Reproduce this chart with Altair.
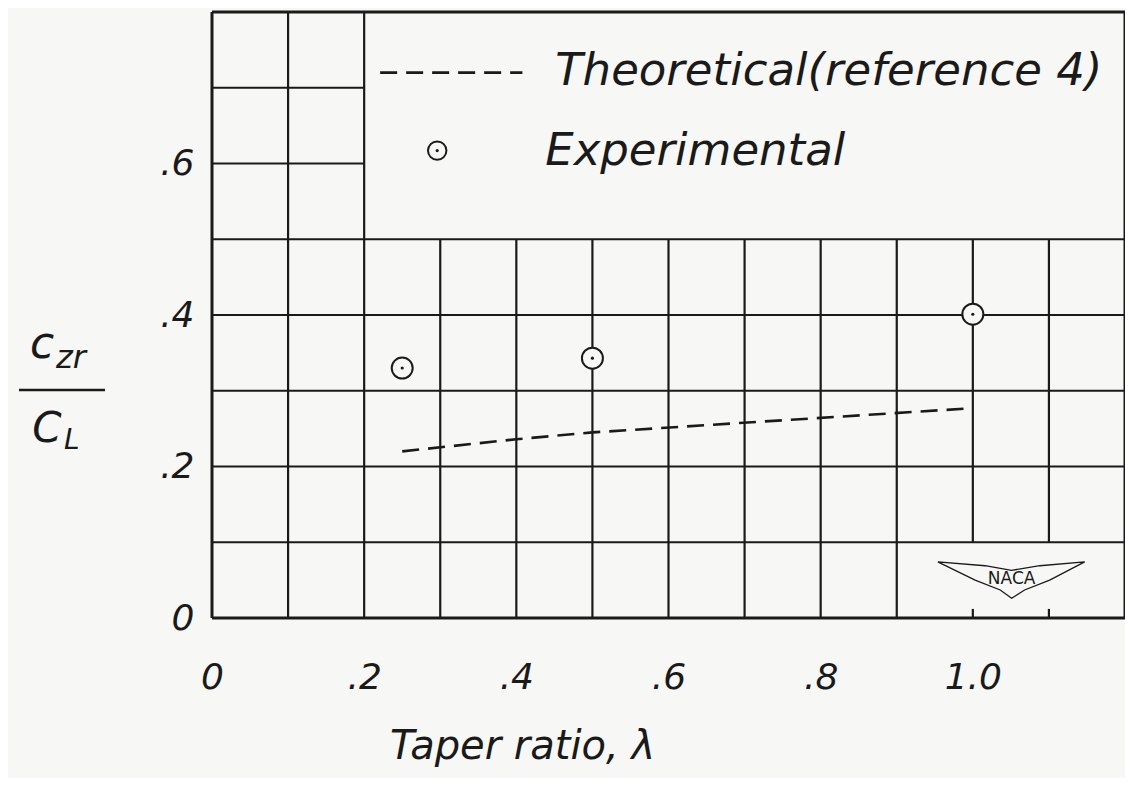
import altair as alt
import pandas as pd

# ---- data ----
exp_taper = [0.25, 0.5, 1.0]
exp_ratio = [0.330, 0.343, 0.401]

theo_taper = [0.25, 0.4, 0.5, 1.0]
theo_ratio = [0.220, 0.236, 0.245, 0.277]

x_tick_values = [0, 0.2, 0.4, 0.6, 0.8, 1.0]
y_tick_values = [0, 0.2, 0.4, 0.6]

legend_labels = ["Theoretical(reference 4)", "Experimental"]

FONT = "DejaVu Sans"
INK = "#1a1a1a"
BG = "#f7f7f5"

X_DOM = [0, 1.2]
Y_DOM = [0, 0.8]

xs = alt.Scale(domain=X_DOM, nice=False, zero=False)
ys = alt.Scale(domain=Y_DOM, nice=False, zero=False)

# ---- grid segments (hand-drawn grid layout of the reference) ----
grid_rows = []
for i in range(1, 12):
    x = i / 10
    if i <= 2:
        grid_rows.append(dict(x=x, x2=x, y=0.0, y2=0.8))
    elif i <= 9:
        grid_rows.append(dict(x=x, x2=x, y=0.0, y2=0.5))
    else:
        grid_rows.append(dict(x=x, x2=x, y=0.1, y2=0.5))
        grid_rows.append(dict(x=x, x2=x, y=0.0, y2=0.012))
for j in range(1, 8):
    y = j / 10
    if j <= 5:
        grid_rows.append(dict(x=0.0, x2=1.2, y=y, y2=y))
    else:
        grid_rows.append(dict(x=0.0, x2=0.2, y=y, y2=y))
grid_df = pd.DataFrame(grid_rows)

border_df = pd.DataFrame([
    dict(x=0.0, x2=0.0, y=0.0, y2=0.8),
    dict(x=1.2, x2=1.2, y=0.0, y2=0.8),
    dict(x=0.0, x2=1.2, y=0.0, y2=0.0),
    dict(x=0.0, x2=1.2, y=0.8, y2=0.8),
])

exp_df = pd.DataFrame({"taper": exp_taper, "ratio": exp_ratio})
theo_df = pd.DataFrame({"taper": theo_taper, "ratio": theo_ratio})

grid = alt.Chart(grid_df).mark_rule(color=INK, strokeWidth=2.2).encode(
    x=alt.X("x:Q", scale=xs), x2="x2:Q", y=alt.Y("y:Q", scale=ys), y2="y2:Q"
)
border = alt.Chart(border_df).mark_rule(color=INK, strokeWidth=3).encode(
    x=alt.X("x:Q", scale=xs), x2="x2:Q", y=alt.Y("y:Q", scale=ys), y2="y2:Q"
)

label_expr_x = "datum.value == 0 ? '0' : (datum.value >= 1 ? format(datum.value, '.1f') : replace(format(datum.value, '.1f'), '0.', '.'))"
label_expr_y = "datum.value == 0 ? '0' : replace(format(datum.value, '.1f'), '0.', '.')"

axes = alt.Chart(exp_df).mark_point(opacity=0).encode(
    x=alt.X(
        "taper:Q", scale=xs,
        axis=alt.Axis(
            values=x_tick_values, grid=False, domain=False, ticks=False,
            labelExpr=label_expr_x, labelFont=FONT, labelFontStyle="italic",
            labelFontSize=36, labelColor=INK, labelPadding=42,
            title="Taper ratio, λ", titleFont=FONT, titleFontStyle="italic",
            titleFontWeight="normal", titleFontSize=40, titleColor=INK,
            titleX=310, titleY=128, titleBaseline="middle", titleAnchor="middle",
            labelFlush=False,
        ),
    ),
    y=alt.Y(
        "ratio:Q", scale=ys,
        axis=alt.Axis(
            values=y_tick_values, grid=False, domain=False, ticks=False,
            labelExpr=label_expr_y, labelFont=FONT, labelFontStyle="italic",
            labelFontSize=36, labelColor=INK, labelPadding=18,
            title=None, labelFlush=False,
        ),
    ),
)

theo_line = alt.Chart(theo_df).mark_line(
    color=INK, strokeWidth=2.6, strokeDash=[17, 9]
).encode(x=alt.X("taper:Q", scale=xs), y=alt.Y("ratio:Q", scale=ys))

exp_circles = alt.Chart(exp_df).mark_point(
    shape="circle", filled=True, fill=BG, stroke=INK, strokeWidth=2, size=440, opacity=1
).encode(x=alt.X("taper:Q", scale=xs), y=alt.Y("ratio:Q", scale=ys))
exp_dots = alt.Chart(exp_df).mark_point(
    shape="circle", filled=True, color=INK, size=10, opacity=1
).encode(x=alt.X("taper:Q", scale=xs), y=alt.Y("ratio:Q", scale=ys))

# ---- legend drawn inside the upper box ----
leg_line_df = pd.DataFrame({"x": [0.221, 0.408], "y": [0.720, 0.720]})
leg_line = alt.Chart(leg_line_df).mark_line(
    color=INK, strokeWidth=2.6, strokeDash=[17, 9]
).encode(x=alt.X("x:Q", scale=xs), y=alt.Y("y:Q", scale=ys))

leg_pt_df = pd.DataFrame({"x": [0.296], "y": [0.617]})
leg_circle = alt.Chart(leg_pt_df).mark_point(
    shape="circle", filled=True, fill=BG, stroke=INK, strokeWidth=2, size=340, opacity=1
).encode(x=alt.X("x:Q", scale=xs), y=alt.Y("y:Q", scale=ys))
leg_dot = alt.Chart(leg_pt_df).mark_point(
    shape="circle", filled=True, color=INK, size=10, opacity=1
).encode(x=alt.X("x:Q", scale=xs), y=alt.Y("y:Q", scale=ys))

leg_text_df = pd.DataFrame({"x": [0.451, 0.438], "y": [0.722, 0.617], "t": legend_labels})
leg_text = alt.Chart(leg_text_df).mark_text(
    align="left", baseline="middle", font=FONT, fontStyle="italic",
    fontSize=45, color=INK
).encode(x=alt.X("x:Q", scale=xs), y=alt.Y("y:Q", scale=ys), text="t:N")

# ---- NACA emblem ----
wing_x = [0.954, 1.016, 1.051, 1.088, 1.147, 1.101, 1.068, 1.051, 1.036, 1.003, 0.954]
wing_y = [0.074, 0.069, 0.063, 0.069, 0.074, 0.050, 0.037, 0.026, 0.037, 0.050, 0.074]
wing_df = pd.DataFrame({"x": wing_x, "y": wing_y, "o": list(range(len(wing_x)))})
wing = alt.Chart(wing_df).mark_line(color=INK, strokeWidth=1.3).encode(
    x=alt.X("x:Q", scale=xs), y=alt.Y("y:Q", scale=ys), order="o:Q"
)
naca_df = pd.DataFrame({"x": [1.051], "y": [0.052], "t": ["NACA"]})
naca = alt.Chart(naca_df).mark_text(
    font=FONT, fontSize=17, color=INK, baseline="middle", align="center"
).encode(x=alt.X("x:Q", scale=xs), y=alt.Y("y:Q", scale=ys), text="t:N")

# ---- y-axis title as a hand-lettered fraction ----
one = pd.DataFrame({"a": [0]})
frac_txt = alt.Chart(one).mark_text(
    font=FONT, fontStyle="italic", fontSize=44, color=INK, align="center", baseline="alphabetic"
).encode(x=alt.value(-170), y=alt.value(346), text=alt.value("c"))
frac_sub = alt.Chart(one).mark_text(
    font=FONT, fontStyle="italic", fontSize=32, color=INK, align="left", baseline="alphabetic"
).encode(x=alt.value(-156), y=alt.value(356), text=alt.value("zr"))
frac_bar = alt.Chart(one).mark_rule(color=INK, strokeWidth=2.4).encode(
    x=alt.value(-193), x2=alt.value(-107), y=alt.value(378)
)
frac_den = alt.Chart(one).mark_text(
    font=FONT, fontStyle="italic", fontSize=42, color=INK, align="center", baseline="alphabetic"
).encode(x=alt.value(-165), y=alt.value(430), text=alt.value("C"))
frac_den_sub = alt.Chart(one).mark_text(
    font=FONT, fontStyle="italic", fontSize=28, color=INK, align="left", baseline="alphabetic"
).encode(x=alt.value(-148), y=alt.value(437), text=alt.value("L"))

chart = alt.layer(
    axes, grid, border, theo_line, exp_circles, exp_dots,
    leg_line, leg_circle, leg_dot, leg_text, wing, naca,
    frac_txt, frac_sub, frac_bar, frac_den, frac_den_sub,
).properties(
    width=913, height=606,
    background=BG,
    padding={"left": 204, "top": 4, "right": 0, "bottom": 160},
    autosize=alt.AutoSizeParams(type="none"),
).configure_view(stroke=None)

chart.save("out.html", embed_options={"renderer": "svg", "actions": False})
